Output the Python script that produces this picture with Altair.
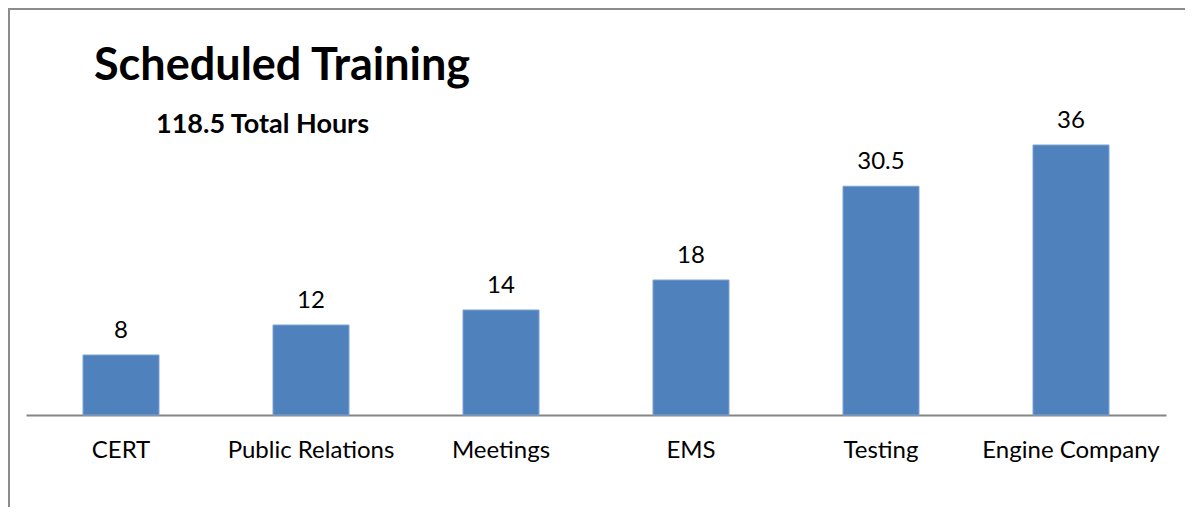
import altair as alt
import pandas as pd

categories = ["CERT", "Public Relations", "Meetings", "EMS", "Testing", "Engine Company"]
hours = [8, 12, 14, 18, 30.5, 36]
value_labels = ["8", "12", "14", "18", "30.5", "36"]
title_text = "Scheduled Training"
subtitle_text = "118.5 Total Hours"

df = pd.DataFrame({"cat": categories, "hours": hours, "lbl": value_labels})

FONT = "Lato"

x = alt.X("cat:N", sort=categories, title=None,
          scale=alt.Scale(paddingInner=0.6, paddingOuter=0.3),
          axis=alt.Axis(labelAngle=0, labelFontSize=24, labelFont=FONT, labelColor="#000000",
                        labelPadding=23, ticks=False, domainColor="#868686", domainWidth=2,
                        labelLimit=400))
y = alt.Y("hours:Q", scale=alt.Scale(domain=[0, 40]), axis=None)

bars = alt.Chart(df).mark_bar(color="#4F81BD", stroke="#7FA3D3", strokeWidth=1).encode(x=x, y=y)
labels = alt.Chart(df).mark_text(baseline="bottom", dy=-12, fontSize=24, font=FONT,
                                 color="#000000").encode(x=x, y=y, text="lbl:N")

title = alt.Chart(pd.DataFrame({"t": [title_text]})).mark_text(
    align="left", baseline="alphabetic", fontSize=45, fontWeight="bold", font=FONT,
    color="#000000").encode(x=alt.value(68), y=alt.value(-35), text="t:N")
subtitle = alt.Chart(pd.DataFrame({"t": [subtitle_text]})).mark_text(
    align="left", baseline="alphabetic", fontSize=27, fontWeight="bold", font=FONT,
    color="#000000").encode(x=alt.value(130), y=alt.value(18), text="t:N")

border_top = alt.Chart(pd.DataFrame({"a": [0]})).mark_rule(color="#8C8C8C", strokeWidth=2).encode(
    x=alt.value(-18), x2=alt.value(1160), y=alt.value(-106))
border_left = alt.Chart(pd.DataFrame({"a": [0]})).mark_rule(color="#8C8C8C", strokeWidth=2).encode(
    x=alt.value(-17), y=alt.value(-107), y2=alt.value(395))

chart = alt.layer(border_top, border_left, bars, labels, title, subtitle).properties(
    width=1140, height=300,
    background="white",
    autosize=alt.AutoSizeParams(type="none"),
    padding={"left": 18, "top": 107, "right": 19, "bottom": 92},
).configure_view(strokeWidth=0, stroke=None)

chart.save("out.html", embed_options={"renderer": "svg", "actions": False})
